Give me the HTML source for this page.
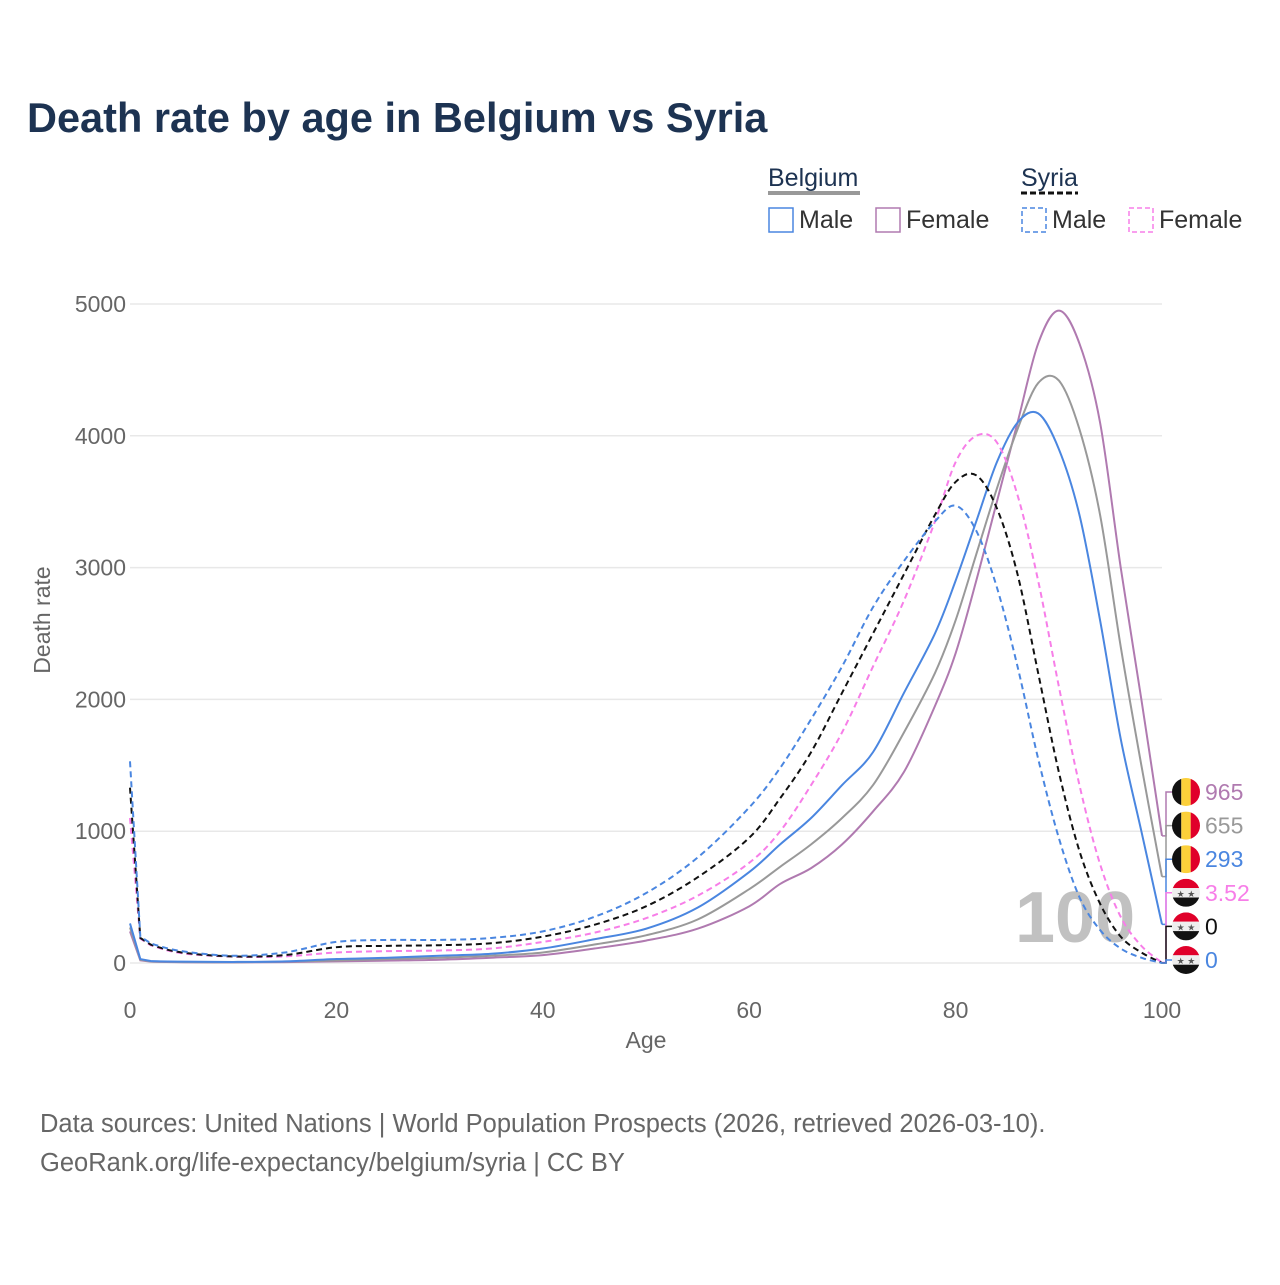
<!DOCTYPE html>
<html><head><meta charset="utf-8"><style>
body{margin:0;background:#fff;font-family:"Liberation Sans",sans-serif}
svg text{font-family:"Liberation Sans",sans-serif}
</style></head><body>
<svg id="chart" width="1280" height="1280" viewBox="0 0 1280 1280">
<text x="27" y="132" font-size="41.5" font-weight="bold" fill="#1d3352">Death rate by age in Belgium vs Syria</text>
<g font-size="25">
<text x="768" y="186" fill="#1d3352">Belgium</text>
<line x1="768" y1="193" x2="860" y2="193" stroke="#999" stroke-width="4"/>
<text x="1021" y="186" fill="#1d3352">Syria</text>
<line x1="1021" y1="193" x2="1078" y2="193" stroke="#111" stroke-width="3" stroke-dasharray="6,3"/>
<rect x="769" y="208" width="24" height="24" fill="none" stroke="#4a86e0" stroke-width="1.5"/>
<text x="799" y="228" fill="#333">Male</text>
<rect x="876" y="208" width="24" height="24" fill="none" stroke="#b07ab0" stroke-width="1.5"/>
<text x="906" y="228" fill="#333">Female</text>
<rect x="1022" y="208" width="24" height="24" fill="none" stroke="#4a86e0" stroke-width="1.5" stroke-dasharray="5,3"/>
<text x="1052" y="228" fill="#333">Male</text>
<rect x="1129" y="208" width="24" height="24" fill="none" stroke="#f77ee8" stroke-width="1.5" stroke-dasharray="5,3"/>
<text x="1159" y="228" fill="#333">Female</text>
</g>
<g id="grid"></g>
<text x="1015" y="942" font-size="72" font-weight="bold" fill="#bbb" opacity="0.9">100</text>
<g id="lines"></g>
<g id="labels"></g>
<text transform="translate(50,620) rotate(-90)" text-anchor="middle" font-size="23" fill="#666">Death rate</text>
<text x="646" y="1048" text-anchor="middle" font-size="23" fill="#666">Age</text>
<text x="40" y="1132" font-size="25.5" fill="#666">Data sources: United Nations | World Population Prospects (2026, retrieved 2026-03-10).</text>
<text x="40" y="1171" font-size="25.5" fill="#666">GeoRank.org/life-expectancy/belgium/syria | CC BY</text>
</svg>
<script>
const ages=[0,1,2,5,10,15,20,25,30,35,40,45,50,55,60,63,66,69,72,75,78,80,82,84,86,88,90,92,94,96,98,100];
const belMale=[300,30,15,10,8,12,30,40,55,70,110,180,260,420,690,900,1100,1350,1600,2050,2500,2900,3350,3800,4100,4170,3900,3400,2600,1700,1000,293];
const belTotal=[270,25,12,8,6,10,20,30,40,55,80,140,210,330,560,730,900,1100,1350,1750,2200,2600,3100,3600,4050,4400,4420,4050,3400,2400,1500,655];
const belFemale=[240,20,10,6,5,7,12,18,25,40,60,110,170,260,430,600,720,900,1150,1450,1950,2350,2900,3500,4100,4700,4950,4700,4100,3000,2000,965];
const syrMale=[1530,200,150,90,55,80,160,175,175,190,240,350,530,800,1180,1480,1850,2250,2700,3050,3350,3470,3280,2850,2250,1550,950,500,250,110,40,0];
const syrTotal=[1330,190,140,80,50,60,120,130,135,150,200,290,430,650,950,1250,1600,2050,2500,2950,3400,3650,3700,3450,2950,2200,1450,850,450,200,80,0];
const syrFemale=[1100,185,135,75,48,50,80,90,95,110,160,230,340,510,760,1000,1350,1750,2250,2750,3350,3800,4000,3950,3550,2900,2100,1350,750,350,130,3.52];
const yTicks=[0,1000,2000,3000,4000,5000];
const xTicks=[0,20,40,60,80,100];
const endLabels=["965","655","293","3.52","0","0"];
const NS="http://www.w3.org/2000/svg";
const X=a=>130+a*10.32, Y=v=>963-v*0.1318;
function mk(t,at,p){const e=document.createElementNS(NS,t);for(const k in at)e.setAttribute(k,at[k]);p.appendChild(e);return e;}
const grid=document.getElementById('grid');
yTicks.forEach(v=>{
 const l=mk('line',{x1:130,x2:1162,y1:Y(v),y2:Y(v),stroke:'#e8e8e8','stroke-width':1.5},grid);
 
 
 const t=mk('text',{x:126,y:Y(v)+8,'text-anchor':'end','font-size':23,fill:'#666'},grid);t.textContent=v;
 
 
});
xTicks.forEach(v=>{
 const t=mk('text',{x:X(v),y:1018,'text-anchor':'middle','font-size':23,fill:'#666'},grid);t.textContent=v;
 
 
});
const series=[
 {d:belFemale,c:'#b07ab0',dash:null,n:'belgium-female'},
 {d:belTotal,c:'#999',dash:null,n:'belgium-total'},
 {d:belMale,c:'#4a86e0',dash:null,n:'belgium-male'},
 {d:syrFemale,c:'#f77ee8',dash:'6,4',n:'syria-female'},
 {d:syrTotal,c:'#111',dash:'6,4',n:'syria-total'},
 {d:syrMale,c:'#4a86e0',dash:'6,4',n:'syria-male'}];
const lg=document.getElementById('lines'), lb=document.getElementById('labels');
series.forEach((s,i)=>{
 const pts=ages.map((a,j)=>[X(a),Y(s.d[j])]);
 let d='M'+pts[0];
 for(let j=0;j<pts.length-1;j++){
  if(j<2){d+='L'+pts[j+1];continue;}
  const p0=pts[Math.max(0,j-1)],p1=pts[j],p2=pts[j+1],p3=pts[Math.min(pts.length-1,j+2)];
  const c1=[p1[0]+(p2[0]-p0[0])/6,p1[1]+(p2[1]-p0[1])/6],c2=[p2[0]-(p3[0]-p1[0])/6,p2[1]-(p3[1]-p1[1])/6];
  d+='C'+c1+' '+c2+' '+p2;
 }
 const at={d:d,fill:'none',stroke:s.c,'stroke-width':2};
 if(s.dash)at['stroke-dasharray']=s.dash;
 const p=mk('path',at,lg);
 
 
 const ly=792+i*33.6, endY=Y(s.d[s.d.length-1]);
 mk('polyline',{points:`1162,${endY} 1166,${endY} 1166,${ly} 1172,${ly}`,fill:'none',stroke:s.c,'stroke-width':1.5},lb);
 const g=mk('g',{},lb);
 
 
 const cx=1186,r=14;
 if(i<3){
  mk('rect',{x:cx-r,y:ly-r,width:9.3,height:28,fill:'#111'},g);
  mk('rect',{x:cx-4.7,y:ly-r,width:9.4,height:28,fill:'#fcd03a'},g);
  mk('rect',{x:cx+4.7,y:ly-r,width:9.3,height:28,fill:'#e0002a'},g);
 }else{
  mk('rect',{x:cx-r,y:ly-r,width:28,height:9.3,fill:'#e0002a'},g);
  mk('rect',{x:cx-r,y:ly-4.7,width:28,height:9.4,fill:'#eee'},g);
  mk('rect',{x:cx-r,y:ly+4.7,width:28,height:9.3,fill:'#111'},g);
  const st=mk('text',{x:cx,y:ly+4,'text-anchor':'middle','font-size':9,fill:'#555'},g);st.textContent='★ ★';
 }
 const cp=mk('clipPath',{id:'cf'+i},lb);mk('circle',{cx:cx,cy:ly,r:r},cp);
 g.setAttribute('clip-path','url(#cf'+i+')');
 const t=mk('text',{x:1205,y:ly+8,'font-size':23,fill:s.c},lb);t.textContent=endLabels[i];
 
 
});
</script>
</body></html>
